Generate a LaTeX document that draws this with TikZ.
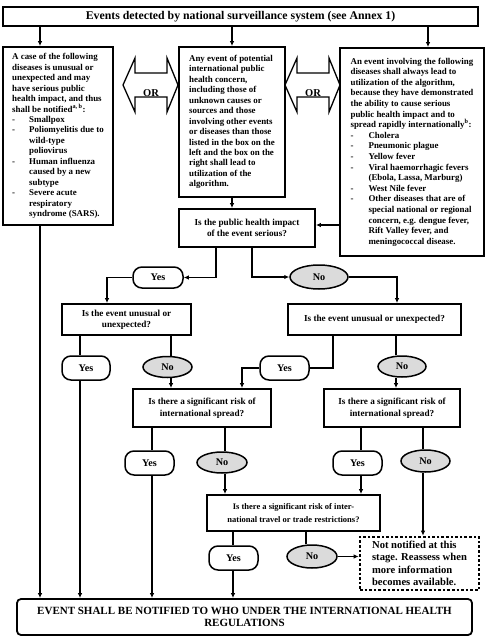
\documentclass[tikz,border=0pt]{standalone}
\usepackage{fontspec}
\setmainfont{Liberation Serif}
\usetikzlibrary{shapes.geometric,arrows.meta,calc}
\newcommand{\dsh}{\makebox[17pt][l]{-}}
\newcommand{\ind}{\hspace*{17pt}}
\newcommand{\dshr}{\makebox[18pt][l]{-}}
\newcommand{\indr}{\hspace*{18pt}}
\begin{document}
\begin{tikzpicture}[x=1pt,y=-1pt,
  every node/.style={inner sep=0pt},
  box/.style={draw, line width=1.8pt, align=center},
  listbox/.style={draw, line width=1.8pt, align=left, font=\bfseries\fontsize{8.9}{10.45}\selectfont},
  qbox/.style={draw, line width=1.8pt, align=center, font=\bfseries\fontsize{9.2}{11.6}\selectfont},
  yesbox/.style={draw, line width=1.5pt, rounded corners=9pt, font=\bfseries\fontsize{10.2}{12}\selectfont},
  nobox/.style={draw, ellipse, line width=1.5pt, fill=gray!28, font=\bfseries\fontsize{10.2}{12}\selectfont},
  orarrow/.style={draw, line width=1.3pt, line join=miter},
  arr/.style={line width=1.3pt, -{Latex[length=5pt,width=4.5pt]}},
  ln/.style={line width=1.3pt}]
\useasboundingbox (0,0) rectangle (486,637);
% vertical line positions
\coordinate (vL) at (40,0);
\coordinate (vM) at (232,0);
\coordinate (vR) at (428,0);
\coordinate (v1) at (216,0);
\coordinate (v2) at (252,0);
\coordinate (v3) at (107,0);
\coordinate (v4) at (397,0);
\coordinate (v5) at (80,0);
\coordinate (v6) at (171,0);
\coordinate (v7) at (333,0);
\coordinate (v8) at (242,0);
\coordinate (v9) at (396,0);
\coordinate (v10) at (152,0);
\coordinate (v11) at (225,0);
\coordinate (v12) at (361,0);
\coordinate (v13) at (423,0);
\coordinate (v14) at (233,0);
\coordinate (v15) at (306,0);
\coordinate (yq) at (0,225);

\node[box, minimum width=475pt, minimum height=19pt, font=\bfseries\fontsize{11.8}{13}\selectfont] (top) at (240.5,16.5)
  {Events detected by national surveillance system (see Annex 1)};

\node[listbox, minimum width=110pt, minimum height=178pt] (lbox) at (58,136)
  {A case of the following\\
   diseases is unusual or\\
   unexpected and may\\
   have serious public\\
   health impact, and thus\\
   shall be notified\textsuperscript{a, b}:\\
   \dsh Smallpox\\
   \dsh Poliomyelitis due to\\
   \ind wild-type\\
   \ind poliovirus\\
   \dsh Human influenza\\
   \ind caused by a new\\
   \ind subtype\\
   \dsh Severe acute\\
   \ind respiratory\\
   \ind syndrome (SARS).};

\node[listbox, minimum width=106pt, minimum height=150pt] (mbox) at (232,122)
  {Any event of potential\\
   international public\\
   health concern,\\
   including those of\\
   unknown causes or\\
   sources and those\\
   involving other events\\
   or diseases than those\\
   listed in the box on the\\
   left and the box on the\\
   right shall lead to\\
   utilization of the\\
   algorithm.};

\node[listbox, minimum width=144pt, minimum height=208pt, font=\bfseries\fontsize{8.9}{10.6}\selectfont] (rbox) at (412,152)
  {An event involving the following\\
   diseases shall always lead to\\
   utilization of the algorithm,\\
   because they have demonstrated\\
   the ability to cause serious\\
   public health impact and to\\
   spread rapidly internationally\textsuperscript{b}:\\
   \dshr Cholera\\
   \dshr Pneumonic plague\\
   \dshr Yellow fever\\
   \dshr Viral haemorrhagic fevers\\
   \indr (Ebola, Lassa, Marburg)\\
   \dshr West Nile fever\\
   \dshr Other diseases that are of\\
   \indr special national or regional\\
   \indr concern, e.g. dengue fever,\\
   \indr Rift Valley fever, and\\
   \indr meningococcal disease.};

% OR double arrows
\draw[orarrow] (135,58) -- (123,85) -- (135,112) -- (135,97) -- (167,97) -- (167,112) -- (178,85) -- (167,58) -- (167,73) -- (135,73) -- cycle;
\node[font=\bfseries\fontsize{10.5}{12}\selectfont, anchor=base] (or1) at (151,96) {OR};
\begin{scope}[xshift=162pt]
\draw[orarrow] (135,58) -- (123,85) -- (135,112) -- (135,97) -- (167,97) -- (167,112) -- (178,85) -- (167,58) -- (167,73) -- (135,73) -- cycle;
\node[font=\bfseries\fontsize{10.5}{12}\selectfont, anchor=base] (or2) at (151,96) {OR};
\end{scope}

\node[qbox, minimum width=136pt, minimum height=38pt] (q1) at (247,228)
  {Is the public health impact\\ of the event serious?};

\node[yesbox, minimum width=50pt, minimum height=21pt] (yes1) at (158,277.5) {Yes};
\node[nobox, minimum width=58pt, minimum height=24pt] (no1) at (319,277) {No};

\node[qbox, minimum width=129pt, minimum height=31pt, font=\bfseries\fontsize{9.2}{11}\selectfont] (q2l) at (126.5,319.5)
  {Is the event unusual or\\ unexpected?};
\node[qbox, minimum width=173pt, minimum height=31pt] (q2r) at (374.5,319.5)
  {Is the event unusual or unexpected?};

\node[yesbox, minimum width=48pt, minimum height=24pt] (yes2l) at (86,368) {Yes};
\node[nobox, minimum width=49pt, minimum height=21pt] (no2l) at (167.5,367) {No};
\node[yesbox, minimum width=49pt, minimum height=24pt] (yes2r) at (284.5,368) {Yes};
\node[nobox, minimum width=48pt, minimum height=21pt] (no2r) at (402,366.5) {No};

\node[qbox, minimum width=138pt, minimum height=38pt] (q3l) at (202,408)
  {Is there a significant risk of\\ international spread?};
\node[qbox, minimum width=136pt, minimum height=38pt] (q3r) at (392,408)
  {Is there a significant risk of\\ international spread?};

\node[yesbox, minimum width=49pt, minimum height=24pt] (yes3l) at (149.5,463) {Yes};
\node[nobox, minimum width=50pt, minimum height=21pt] (no3l) at (222,462.5) {No};
\node[yesbox, minimum width=49pt, minimum height=24pt] (yes3r) at (357.5,463) {Yes};
\node[nobox, minimum width=49pt, minimum height=22pt] (no3r) at (425.5,461) {No};

\node[qbox, minimum width=173pt, minimum height=36pt, font=\bfseries\fontsize{8.5}{12.6}\selectfont] (q4) at (293.5,513)
  {Is there a significant risk of inter-\\ national travel or trade restrictions?};

\node[yesbox, minimum width=49pt, minimum height=24pt] (yes4) at (233.5,558) {Yes};
\node[nobox, minimum width=50pt, minimum height=23pt] (no4) at (312,556.5) {No};

\node[draw, line width=2.6pt, dash pattern=on 2.6pt off 2pt, align=left, minimum width=119pt, minimum height=53pt,
  font=\bfseries\fontsize{10.6}{12.4}\selectfont] (dot) at (419.5,563.5)
  {Not notified at this\\ stage. Reassess when\\ more information\\ becomes available.};

\node[draw, line width=1.8pt, rounded corners=4pt, align=center, minimum width=455pt, minimum height=36pt,
  font=\bfseries\fontsize{11}{12.7}\selectfont] (final) at (244.5,617)
  {EVENT SHALL BE NOTIFIED TO WHO UNDER THE INTERNATIONAL HEALTH\\ REGULATIONS};

% connectors
\draw[arr] (top.south -| vL) -- (lbox.north -| vL);
\draw[arr] (top.south -| vM) -- (mbox.north -| vM);
\draw[arr] (top.south -| vR) -- (rbox.north -| vR);
\draw[arr] (mbox.south -| vM) -- (q1.north -| vM);
\draw[arr] (rbox.west |- yq) -- (q1.east |- yq);
\draw[arr] (lbox.south -| vL) -- (final.north -| vL);
\draw[arr] (q1.south -| v1) |- (yes1.east);
\draw[arr] (q1.south -| v2) |- (no1.west);
\draw[arr] (yes1.west) -| (q2l.north -| v3);
\draw[arr] (no1.east) -| (q2r.north -| v4);
\draw[ln] (q2l.south -| v5) -- (yes2l.north -| v5);
\draw[arr] (yes2l.south -| v5) -- (final.north -| v5);
\draw[ln] (q2l.south -| v6) -- (no2l.north -| v6);
\draw[arr] (no2l.south -| v6) -- (q3l.north -| v6);
\draw[ln] (q2r.south -| v7) |- (yes2r.east);
\draw[arr] (yes2r.west) -| (q3l.north -| v8);
\draw[ln] (q2r.south -| v9) -- (no2r.north -| v9);
\draw[arr] (no2r.south -| v9) -- (q3r.north -| v9);
\draw[ln] (q3l.south -| v10) -- (yes3l.north -| v10);
\draw[arr] (yes3l.south -| v10) -- (final.north -| v10);
\draw[ln] (q3l.south -| v11) -- (no3l.north -| v11);
\draw[arr] (no3l.south -| v11) -- (q4.north -| v11);
\draw[ln] (q3r.south -| v12) -- (yes3r.north -| v12);
\draw[arr] (yes3r.south -| v12) -- (q4.north -| v12);
\draw[ln] (q3r.south -| v13) -- (no3r.north -| v13);
\draw[arr] (no3r.south -| v13) -- (dot.north -| v13);
\draw[ln] (q4.south -| v14) -- (yes4.north -| v14);
\draw[arr] (yes4.south -| v14) -- (final.north -| v14);
\draw[ln] (q4.south -| v15) -- (no4.north -| v15);
\draw[arr] (no4.east) -- (dot.west |- no4.east);
\end{tikzpicture}
\end{document}
